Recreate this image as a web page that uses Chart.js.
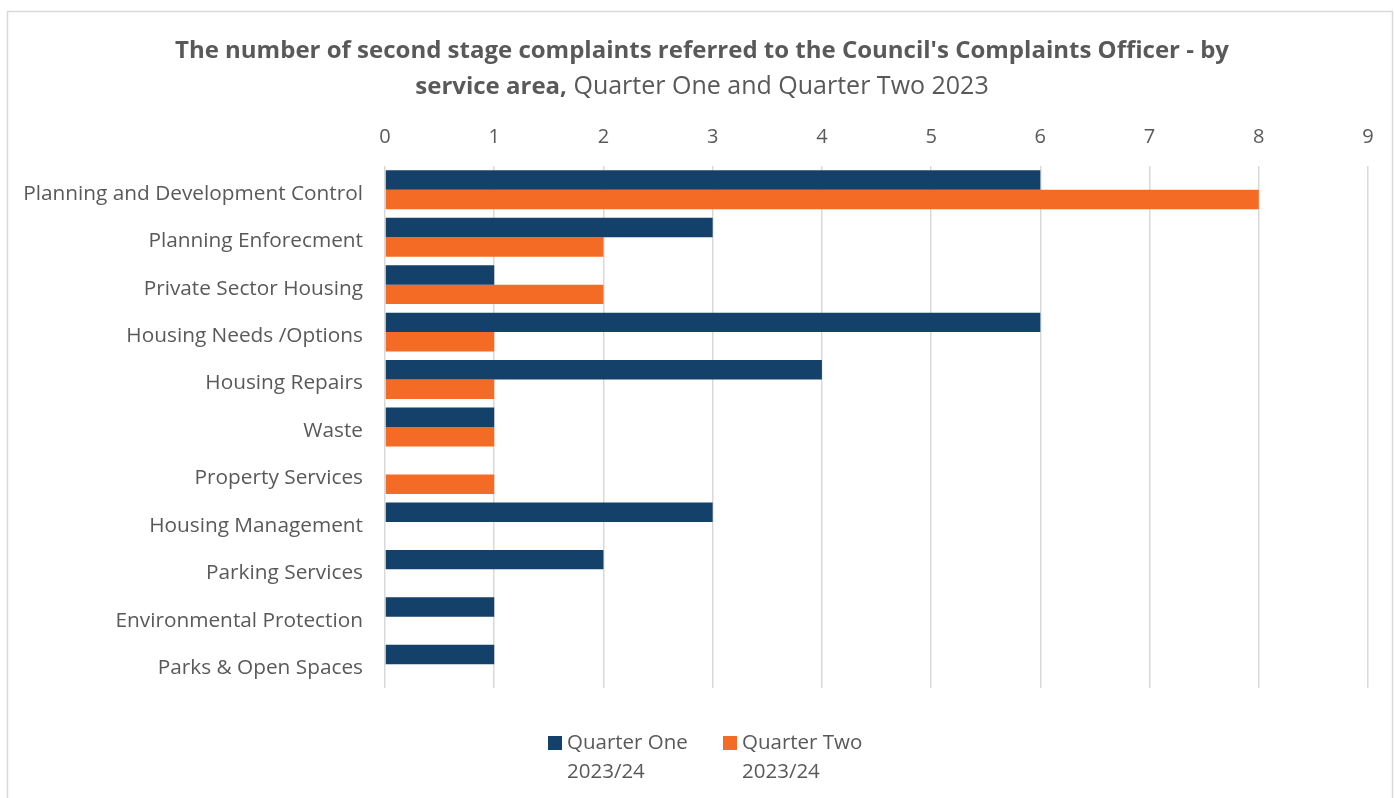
<!DOCTYPE html>
<html>
<head>
<meta charset="utf-8">
<script src="https://cdn.jsdelivr.net/npm/chart.js@4.4.0/dist/chart.umd.min.js"></script>
<style>
  html, body { margin: 0; padding: 0; background: #fff; }
  #wrap { width: 1394px; height: 798px; }
</style>
</head>
<body>
<div id="wrap"><canvas id="barChart"></canvas></div>
<script>
const categories = [
  'Planning and Development Control',
  'Planning Enforecment',
  'Private Sector Housing',
  'Housing Needs /Options',
  'Housing Repairs',
  'Waste',
  'Property Services',
  'Housing Management',
  'Parking Services',
  'Environmental Protection',
  'Parks & Open Spaces'
];
const quarterOne = [6, 3, 1, 6, 4, 1, 0, 3, 2, 1, 1];
const quarterTwo = [8, 2, 2, 1, 1, 1, 1, 0, 0, 0, 0];
const seriesNames = [['Quarter One', '2023/24'], ['Quarter Two', '2023/24']];
const seriesColors = ['#13416A', '#F46B25'];

const FONT = '"Open Sans", "Noto Sans", sans-serif';
const TEXT = '#595959';

const chartFrame = {
  id: 'chartFrame',
  beforeDraw(chart) {
    const ctx = chart.ctx;
    ctx.save();
    ctx.strokeStyle = '#d9d9d9';
    ctx.lineWidth = 1.5;
    ctx.strokeRect(7.5, 11.5, 1385, 800);
    ctx.restore();
  },
  afterDraw(chart) {
    const ctx = chart.ctx;
    ctx.save();
    ctx.fillStyle = TEXT;
    ctx.textBaseline = 'middle';

    // title, first line all bold
    ctx.font = 'bold 24px ' + FONT;
    ctx.textAlign = 'center';
    ctx.fillText("The number of second stage complaints referred to the Council's Complaints Officer - by", 702, 51);

    // second line: bold part then normal part
    const boldPart = 'service area,';
    const normalPart = ' Quarter One and Quarter Two 2023';
    ctx.font = 'bold 24px ' + FONT;
    const w1 = ctx.measureText(boldPart).width;
    ctx.font = '25px ' + FONT;
    const w2 = ctx.measureText(normalPart).width;
    let x = 702 - (w1 + w2) / 2;
    ctx.textAlign = 'left';
    ctx.font = 'bold 24px ' + FONT;
    ctx.fillText(boldPart, x, 87);
    ctx.font = '25px ' + FONT;
    ctx.fillText(normalPart, x + w1, 87);

    // legend
    const legendX = [548, 723];
    ctx.font = '20.5px ' + FONT;
    seriesNames.forEach((lines, i) => {
      ctx.fillStyle = seriesColors[i];
      ctx.fillRect(legendX[i], 736, 14, 14);
      ctx.fillStyle = TEXT;
      lines.forEach((t, j) => ctx.fillText(t, legendX[i] + 19, 743 + j * 29));
    });
    ctx.restore();
  }
};

new Chart(document.getElementById('barChart'), {
  type: 'bar',
  data: {
    labels: categories,
    datasets: seriesNames.map((name, i) => ({
      label: name.join(' '),
      data: i === 0 ? quarterOne : quarterTwo,
      backgroundColor: seriesColors[i],
      categoryPercentage: 0.82,
      barPercentage: 1.0
    }))
  },
  options: {
    indexAxis: 'y',
    responsive: true,
    maintainAspectRatio: false,
    animation: false,
    layout: { padding: { left: 8, right: 26, top: 0, bottom: 110 } },
    plugins: {
      legend: { display: false },
      title: { display: false },
      tooltip: { enabled: false }
    },
    scales: {
      x: {
        position: 'top',
        min: 0,
        max: 9,
        ticks: { stepSize: 1, color: TEXT, font: { family: FONT, size: 20 }, padding: 17 },
        grid: { color: '#d9d9d9', lineWidth: 1.5, drawTicks: false },
        border: { display: false },
        afterFit(scale) { scale.height = 166; }
      },
      y: {
        ticks: { color: TEXT, font: { family: FONT, size: 20.8 }, padding: 22, labelOffset: 4 },
        grid: { display: false, drawTicks: false },
        border: { display: false },
        afterFit(scale) { scale.width = 377; }
      }
    }
  },
  plugins: [chartFrame]
});
</script>
</body>
</html>
